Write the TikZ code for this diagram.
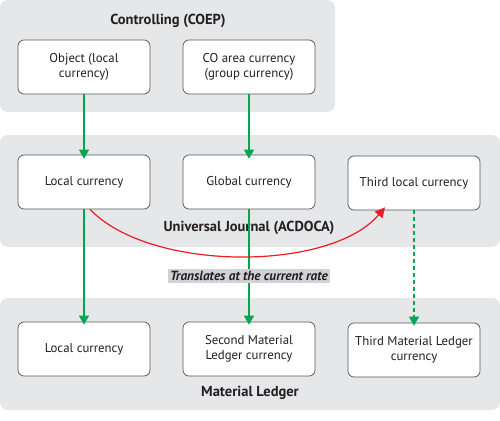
\documentclass[tikz,border=0pt]{standalone}
\usepackage{fontspec}
\setmainfont{PT Sans}
\usepackage{tikz}
\usetikzlibrary{calc,arrows.meta}
\usetikzlibrary{positioning}
\definecolor{cl-panel}{HTML}{E6E7E8}
\definecolor{cl-label}{HTML}{D1D2D4}
\definecolor{cl-edge}{HTML}{555555}
\definecolor{cl-text}{HTML}{231F20}
\definecolor{cl-green}{HTML}{00A651}
\definecolor{cl-red}{HTML}{ED1C24}

\tikzset{
    panel/.style={fill=cl-panel, draw=none, rounded corners=8pt},
    curbox/.style={draw=cl-edge, fill=white, line width=0.7pt, rounded corners=6pt,
        minimum width=132pt, minimum height=54pt, align=center,
        font=\fontsize{12.8}{15}\selectfont, text=cl-text},
    title/.style={font=\fontsize{14.5}{17}\selectfont\bfseries, text=cl-text},
    flow/.style={cl-green, line width=1.3pt, -{Triangle[width=10pt,length=9pt]}},
}

\begin{document}
\begin{tikzpicture}[x=1pt, y=-1pt]
    \useasboundingbox (0,0) rectangle (500,420);

    % --- Panels ---
    \fill[panel] (0,0) rectangle (335,112);
    \fill[panel] (0,135) rectangle (500,247);
    \fill[panel] (0,298) rectangle (500,410);

    % --- Controlling (COEP) ---
    \node[title] (coep) at (168,21) {Controlling (COEP)};
    \node[curbox] (object) at (84,67) {Object (local\\currency)};
    \node[curbox] (coarea) at (249,67) {CO area currency\\(group currency)};

    % --- Universal Journal (ACDOCA) ---
    \node[curbox] (uj-local) at (84,182) {Local currency};
    \node[curbox] (uj-global) at (249,182) {Global currency};
    \node[curbox] (uj-third) at (414,183) {Third local currency};
    \node[title] (acdoca) at (249,228) {Universal Journal (ACDOCA)};

    % --- Material Ledger ---
    \node[curbox] (ml-local) at (84,349) {Local currency};
    \node[curbox] (ml-second) at (249,349) {Second Material\\Ledger currency};
    \node[curbox] (ml-third) at (414,350) {Third Material Ledger\\currency};
    \node[title] (ledger) at (250,393) {Material Ledger};

    % Arrows between the layers
    \draw[flow] (object.south) -- ([yshift=-4pt]uj-local.north);
    \draw[flow] (coarea.south) -- ([yshift=-4pt]uj-global.north);
    \draw[flow] (uj-local.south) -- ([yshift=-3pt]ml-local.north);
    \draw[flow] (uj-global.south) -- ([yshift=-3pt]ml-second.north);
    \draw[flow, dash pattern=on 4pt off 3pt] (uj-third.south) -- ([yshift=-3pt]ml-third.north);

    % Translation from local to third local currency
    \draw[cl-red, line width=1.2pt, -{Triangle[width=10pt,length=10pt]}]
        ([xshift=6pt]uj-local.south) .. controls (150,272) and (330,272) .. ([xshift=-29pt,yshift=3pt]uj-third.south);

    % Label on the middle connector
    \node[fill=cl-label, inner sep=2pt, font=\fontsize{13.3}{15}\selectfont\bfseries\itshape, text=cl-text]
        (rate) at (249,276) {Translates at the current rate};
\end{tikzpicture}
\end{document}
